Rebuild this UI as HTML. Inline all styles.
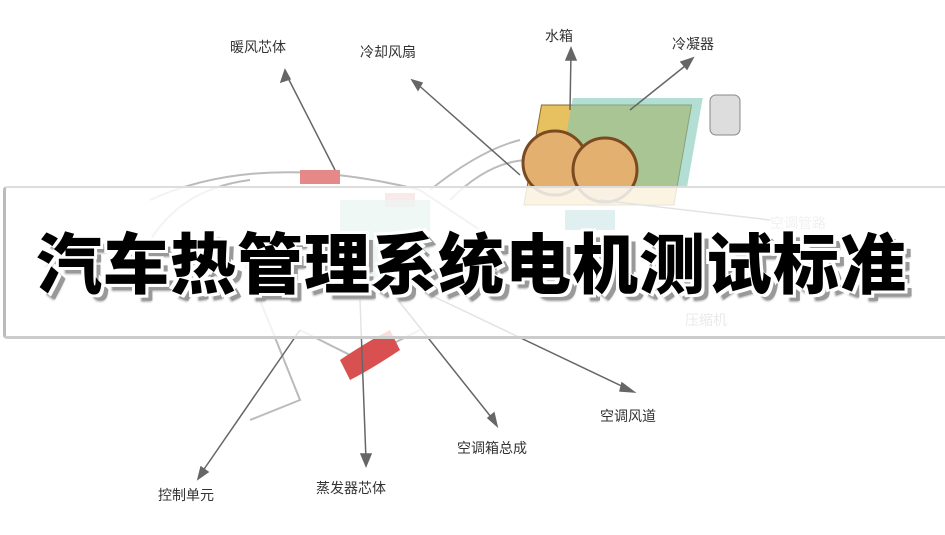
<!DOCTYPE html>
<html><head><meta charset="utf-8"><style>
body{margin:0;width:945px;height:535px;overflow:hidden;background:#fff;position:relative;font-family:"Liberation Sans","Noto Sans CJK SC",sans-serif}
.l{position:absolute;font-size:14px;color:#333;white-space:nowrap}
.banner{position:absolute;left:3px;top:186px;width:960px;height:148px;background:rgba(255,255,255,0.82);border-left:3px solid #bbb;border-top:2px solid #ddd;border-bottom:3px solid #ccc;border-radius:4px 0 0 4px}
.t{position:absolute;left:36px;top:222px;font-size:66px;font-weight:900;color:#000;letter-spacing:1px;font-family:"Noto Sans CJK SC",sans-serif;line-height:76px;
text-shadow:3px 3px 0 #fff,-3px -3px 0 #fff,3px -3px 0 #fff,-3px 3px 0 #fff,7px 6px 0 #999,6px 7px 2px #999}
</style></head><body>
<svg width="945" height="535" style="position:absolute;left:0;top:0">
<g stroke="#bbb" fill="none" stroke-width="2">
<path d="M150 200 Q260 150 420 190 L480 230"/>
<path d="M140 260 Q170 190 250 180"/>
<path d="M260 300 L300 400 L250 420"/>
<path d="M300 330 L360 360 L420 330"/>
<path d="M430 190 Q480 150 520 140"/>
<path d="M450 200 Q490 160 530 160"/>
</g>
<rect x="300" y="170" width="40" height="14" fill="#e48888"/>
<rect x="385" y="193" width="30" height="14" fill="#e48888"/>
<rect x="340" y="200" width="90" height="80" fill="#8cc7b8" opacity=".7"/>
<path d="M340 360 Q370 340 390 330 L400 350 Q370 370 350 380Z" fill="#d95050"/>
<g transform="skewX(-10)">
<rect x="560" y="105" width="150" height="100" fill="#e7c060" stroke="#8a6a2a"/>
<rect x="590" y="98" width="130" height="90" fill="#80c8b8" opacity=".6"/>
</g>
<circle cx="555" cy="163" r="32" fill="#e4b070" stroke="#7a4a20" stroke-width="3"/>
<circle cx="605" cy="170" r="32" fill="#e4b070" stroke="#7a4a20" stroke-width="3"/>
<rect x="710" y="95" width="30" height="40" rx="6" fill="#ddd" stroke="#888"/>
<rect x="565" y="210" width="50" height="20" fill="#5aa"/>
<g stroke="#666" stroke-width="1.5" fill="#666">
<line x1="335" y1="170" x2="285" y2="72"/><polygon points="285,70 281,82 290,79"/>
<line x1="520" y1="175" x2="415" y2="82"/><polygon points="412,80 418,90 422,83"/>
<line x1="570" y1="110" x2="571" y2="52"/><polygon points="571,48 566,60 576,60"/>
<line x1="630" y1="110" x2="690" y2="62"/><polygon points="693,58 681,62 687,69"/>
<line x1="600" y1="200" x2="770" y2="220"/>
<line x1="420" y1="290" x2="630" y2="390"/><polygon points="634,392 622,383 620,391"/>
<line x1="390" y1="290" x2="495" y2="422"/><polygon points="497,426 494,413 488,418"/>
<line x1="360" y1="300" x2="366" y2="460"/><polygon points="366,466 361,454 371,454"/>
<line x1="300" y1="330" x2="200" y2="475"/><polygon points="198,479 201,467 208,472"/>
</g>
</svg>
<div class="l" style="left:230px;top:37px">暖风芯体</div>
<div class="l" style="left:360px;top:42px">冷却风扇</div>
<div class="l" style="left:545px;top:26px">水箱</div>
<div class="l" style="left:672px;top:34px">冷凝器</div>
<div class="l" style="left:770px;top:213px;color:#aaa">空调管路</div>
<div class="l" style="left:685px;top:310px;color:#888">压缩机</div>
<div class="l" style="left:600px;top:406px">空调风道</div>
<div class="l" style="left:457px;top:438px">空调箱总成</div>
<div class="l" style="left:158px;top:485px">控制单元</div>
<div class="l" style="left:316px;top:478px">蒸发器芯体</div>
<div class="banner"></div>
<div class="t">汽车热管理系统电机测试标准</div>
</body></html>
